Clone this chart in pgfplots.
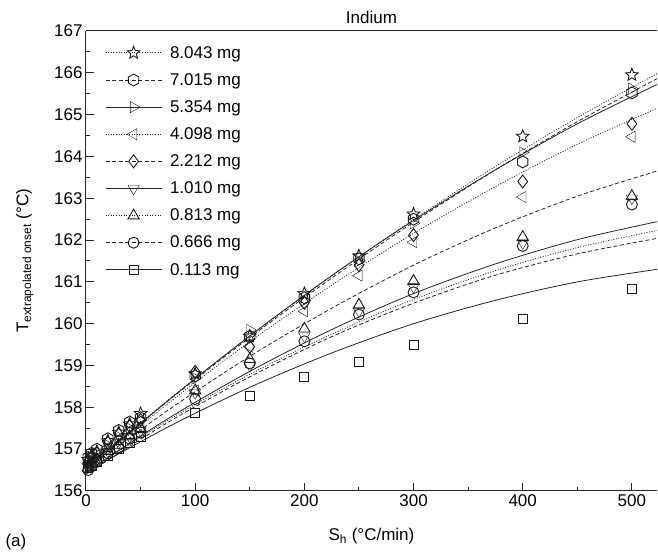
\documentclass[border=0pt]{standalone}
\usepackage{fontspec}
\setmainfont{Liberation Sans}
\usepackage{pgfplots}
\pgfplotsset{compat=1.18}

% hollow hexagon and five-pointed star
\pgfdeclareplotmark{hexa}{%
  \pgfpathmoveto{\pgfqpointpolar{90}{\pgfplotmarksize}}%
  \pgfpathlineto{\pgfqpointpolar{150}{\pgfplotmarksize}}%
  \pgfpathlineto{\pgfqpointpolar{210}{\pgfplotmarksize}}%
  \pgfpathlineto{\pgfqpointpolar{270}{\pgfplotmarksize}}%
  \pgfpathlineto{\pgfqpointpolar{330}{\pgfplotmarksize}}%
  \pgfpathlineto{\pgfqpointpolar{30}{\pgfplotmarksize}}%
  \pgfpathclose\pgfusepathqstroke}
\pgfdeclareplotmark{star5}{%
  \pgfpathmoveto{\pgfqpointpolar{90}{\pgfplotmarksize}}%
  \pgfpathlineto{\pgfqpointpolar{126}{0.45\pgfplotmarksize}}%
  \pgfpathlineto{\pgfqpointpolar{162}{\pgfplotmarksize}}%
  \pgfpathlineto{\pgfqpointpolar{198}{0.45\pgfplotmarksize}}%
  \pgfpathlineto{\pgfqpointpolar{234}{\pgfplotmarksize}}%
  \pgfpathlineto{\pgfqpointpolar{270}{0.45\pgfplotmarksize}}%
  \pgfpathlineto{\pgfqpointpolar{306}{\pgfplotmarksize}}%
  \pgfpathlineto{\pgfqpointpolar{342}{0.45\pgfplotmarksize}}%
  \pgfpathlineto{\pgfqpointpolar{18}{\pgfplotmarksize}}%
  \pgfpathlineto{\pgfqpointpolar{54}{0.45\pgfplotmarksize}}%
  \pgfpathclose\pgfusepathqstroke}

\tikzset{
  dotl/.style={dash pattern=on 1pt off 1.6pt},
  dashl/.style={dash pattern=on 4pt off 2.5pt},
  soll/.style={solid},
}
\newcommand{\fs}{\fontsize{17}{20}\selectfont}
\pgfplotsset{
  fit/.style={black!85, line width=0.8pt, smooth, no marks, forget plot},
  pts/.style={only marks, black!90, mark options={solid, line width=0.9pt}},
  lg/.style={legend image code/.code={%
      \draw[black!85, line width=0.8pt, #1] (0pt,0pt) -- (56pt,0pt);
      \draw[##1] plot coordinates {(28pt,0pt)};}},
}

\begin{document}
\begin{tikzpicture}
\begin{axis}[
    scale only axis,
    width=571pt, height=460pt,
    xmin=0, xmax=523,
    ymin=156, ymax=167,
    clip=false,
    xtick={0,100,...,500},
    ytick={156,157,...,167},
    minor x tick num=1,
    minor y tick num=1,
    tick align=inside,
    major tick length=8pt,
    minor tick length=4pt,
    axis x line*=box,
    axis y line*=left,
    xtick pos=left, ytick pos=left,
    axis line style={black!85, line width=1pt},
    every tick/.style={black!85, line width=1pt},
    /pgf/number format/assume math mode=true,
    tick label style={font=\fs},
    title={Indium},
    title style={font=\fs, yshift=-2pt},
    xlabel={S\textsubscript{h} (°C/min)},
    ylabel={T\textsubscript{extrapolated onset} (°C)},
    label style={font=\fs},
    xlabel style={at={(axis description cs:0.5,-0.098)}, anchor=center},
    ylabel style={at={(axis description cs:-0.107,0.5)}, anchor=center},
    legend cell align=left,
    legend style={draw=none, fill=none, font=\fs,
      at={(axis description cs:0,1)}, anchor=north west,
      xshift=16pt, yshift=-11pt, row sep=9.75pt,
      /tikz/every odd column/.style={column sep=6pt}},
]
% fitted curves
\addplot[fit, dotl]  coordinates {(0,156.55)(75,158.17)(150,159.70)(225,161.14)(300,162.49)(375,163.76)(450,164.93)(523,165.98)};
\addplot[fit, dashl] coordinates {(0,156.55)(75,158.15)(150,159.67)(225,161.09)(300,162.43)(375,163.68)(450,164.83)(523,165.86)};
\addplot[fit, soll]  coordinates {(0,156.50)(75,158.16)(150,159.71)(225,161.15)(300,162.47)(375,163.68)(450,164.78)(523,165.72)};
\addplot[fit, dotl]  coordinates {(0,156.50)(75,158.09)(150,159.57)(225,160.92)(300,162.16)(375,163.28)(450,164.29)(523,165.15)};
\addplot[fit, dashl] coordinates {(0,156.50)(75,157.93)(150,159.22)(225,160.37)(300,161.40)(375,162.29)(450,163.05)(523,163.65)};
\addplot[fit, soll]  coordinates {(0,156.45)(75,157.73)(150,158.86)(225,159.86)(300,160.72)(375,161.43)(450,162.01)(523,162.44)};
\addplot[fit, dotl]  coordinates {(0,156.45)(75,157.69)(150,158.79)(225,159.75)(300,160.58)(375,161.27)(450,161.82)(523,162.23)};
\addplot[fit, dashl] coordinates {(0,156.40)(75,157.64)(150,158.73)(225,159.69)(300,160.49)(375,161.16)(450,161.67)(523,162.04)};
\addplot[fit, soll]  coordinates {(0,156.45)(75,157.53)(150,158.48)(225,159.30)(300,160.00)(375,160.56)(450,161.00)(523,161.30)};

% measured points
\addplot[pts, lg=dotl, mark=star5, mark size=6.5pt] coordinates {
(2,156.75)(5,156.85)(10,156.95)(20,157.2)(30,157.4)(40,157.6)(50,157.85)
(100,158.8)(150,159.7)(200,160.72)(250,161.62)(300,162.62)(400,164.48)(500,165.95)};
\addlegendentry{8.043 mg}
\addplot[pts, lg=dashl, mark=hexa, mark size=6pt] coordinates {
(2,156.8)(5,156.9)(10,157.0)(20,157.25)(30,157.45)(40,157.65)(50,157.75)
(100,158.75)(150,159.7)(200,160.62)(250,161.55)(300,162.5)(400,163.87)(500,165.52)};
\addlegendentry{7.015 mg}
\addplot[pts, lg=soll, mark=triangle, mark size=6.5pt, mark options={rotate=-90}] coordinates {
(2,156.7)(5,156.8)(10,156.9)(20,157.1)(30,157.3)(40,157.5)(50,157.7)
(100,158.7)(150,159.85)(200,160.55)(250,161.5)(300,162.4)(400,164.1)(500,165.62)};
\addlegendentry{5.354 mg}
\addplot[pts, lg=dotl, mark=triangle, mark size=6.5pt, mark options={rotate=90}] coordinates {
(2,156.65)(5,156.75)(10,156.85)(20,157.05)(30,157.25)(40,157.45)(50,157.55)
(100,158.4)(150,159.45)(200,160.3)(250,161.15)(300,161.95)(400,163.03)(500,164.47)};
\addlegendentry{4.098 mg}
\addplot[pts, lg=dashl, mark=diamond, mark size=6.5pt] coordinates {
(2,156.7)(5,156.8)(10,156.9)(20,157.15)(30,157.35)(40,157.55)(50,157.7)
(100,158.85)(150,159.45)(200,160.5)(250,161.4)(300,162.12)(400,163.4)(500,164.78)};
\addlegendentry{2.212 mg}
\addplot[pts, lg=soll, mark=triangle, mark size=6.5pt, mark options={rotate=180}] coordinates {
(2,156.6)(5,156.65)(10,156.75)(20,156.95)(30,157.15)(40,157.3)(50,157.45)
(100,158.35)(150,159.0)(200,159.7)(250,160.3)(300,160.88)(400,161.93)(500,163.0)};
\addlegendentry{1.010 mg}
\addplot[pts, lg=dotl, mark=triangle, mark size=6.5pt] coordinates {
(2,156.55)(5,156.65)(10,156.75)(20,156.95)(30,157.1)(40,157.3)(50,157.5)
(100,158.4)(150,159.15)(200,159.88)(250,160.45)(300,161.02)(400,162.07)(500,163.05)};
\addlegendentry{0.813 mg}
\addplot[pts, lg=dashl, mark=o, mark size=5.5pt] coordinates {
(2,156.5)(5,156.6)(10,156.7)(20,156.9)(30,157.05)(40,157.25)(50,157.4)
(100,158.2)(150,159.05)(200,159.58)(250,160.22)(300,160.75)(400,161.86)(500,162.85)};
\addlegendentry{0.666 mg}
\addplot[pts, lg=soll, mark=square, mark size=4.5pt] coordinates {
(2,156.55)(5,156.6)(10,156.7)(20,156.85)(30,157.0)(40,157.15)(50,157.3)
(100,157.86)(150,158.28)(200,158.72)(250,159.08)(300,159.49)(400,160.12)(500,160.83)};
\addlegendentry{0.113 mg}

\node[font=\fs, anchor=base west] at (rel axis cs:0,0) [xshift=-84pt, yshift=-56pt] {(a)};
% page frame with the reference's proportions
\path (rel axis cs:0,0) ++(-86pt,-60pt) rectangle ++(658pt,551pt);
\end{axis}
\end{tikzpicture}
\end{document}
